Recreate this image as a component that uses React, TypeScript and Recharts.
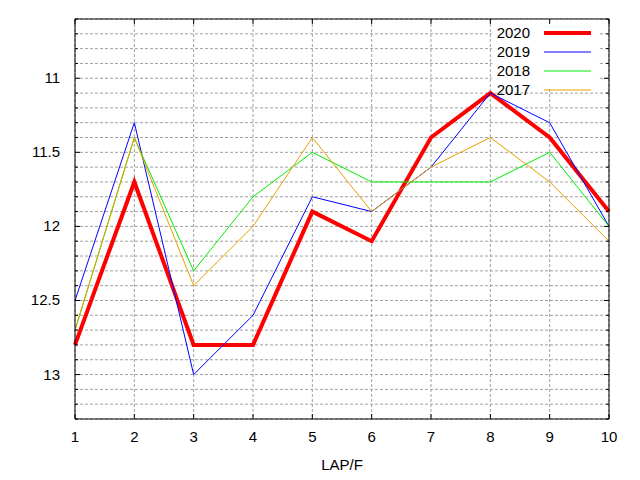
import { LineChart, Line, XAxis, YAxis, CartesianGrid, ReferenceArea } from 'recharts';

const LAPS = [1, 2, 3, 4, 5, 6, 7, 8, 9, 10];
const Y2020 = [12.8, 11.7, 12.8, 12.8, 11.9, 12.1, 11.4, 11.1, 11.4, 11.9];
const Y2019 = [12.5, 11.3, 13.0, 12.6, 11.8, 11.9, 11.6, 11.1, 11.3, 12.0];
const Y2018 = [12.7, 11.4, 12.3, 11.8, 11.5, 11.7, 11.7, 11.7, 11.5, 12.0];
const Y2017 = [12.7, 11.4, 12.4, 12.0, 11.4, 11.9, 11.6, 11.4, 11.7, 12.1];

const Y_TICKS = [
  10.6, 10.7, 10.8, 10.9, 11, 11.1, 11.2, 11.3, 11.4, 11.5, 11.6, 11.7, 11.8, 11.9, 12,
  12.1, 12.2, 12.3, 12.4, 12.5, 12.6, 12.7, 12.8, 12.9, 13, 13.1, 13.2, 13.3,
];
const Y_MAJOR = [11, 11.5, 12, 12.5, 13];

const SERIES = [
  { key: 'y2020', name: '2020', color: '#ff0000', width: 4, values: Y2020 },
  { key: 'y2019', name: '2019', color: '#0000ff', width: 1, values: Y2019 },
  { key: 'y2018', name: '2018', color: '#00ee00', width: 1, values: Y2018 },
  { key: 'y2017', name: '2017', color: '#e69f00', width: 1, values: Y2017 },
];

const data = LAPS.map((lap, i) => {
  const row: Record<string, number> = { lap };
  SERIES.forEach(s => { row[s.key] = s.values[i]; });
  return row;
});

const W = 640;
const H = 480;
const LEFT = 75;
const RIGHT = 609;
const TOP = 19;
const BOTTOM = 419;
const FONT = '"Liberation Sans", Arial, sans-serif';

const isMajor = (v: number) => Y_MAJOR.some(m => Math.abs(m - v) < 1e-6);

const LeftTick = (props: any) => {
  const { y, payload } = props;
  const major = isMajor(payload.value);
  return (
    <g>
      <line x1={LEFT} x2={LEFT + (major ? 5 : 3)} y1={y} y2={y} stroke="#000" />
      {major && (
        <text x={LEFT - 15} y={y} dy={5} textAnchor="end" fontSize={15} fontFamily={FONT} fill="#000">
          {payload.value}
        </text>
      )}
    </g>
  );
};

const RightTick = (props: any) => {
  const { y, payload } = props;
  const major = isMajor(payload.value);
  return <line x1={RIGHT} x2={RIGHT - (major ? 5 : 3)} y1={y} y2={y} stroke="#000" />;
};

const BottomTick = (props: any) => {
  const { x, payload } = props;
  return (
    <g>
      <line x1={x} x2={x} y1={BOTTOM} y2={BOTTOM - 5} stroke="#000" />
      <text x={x} y={BOTTOM + 23} textAnchor="middle" fontSize={15} fontFamily={FONT} fill="#000">
        {payload.value}
      </text>
    </g>
  );
};

const TopTick = (props: any) => {
  const { x } = props;
  return <line x1={x} x2={x} y1={TOP} y2={TOP + 5} stroke="#000" />;
};

export default function App() {
  return (
    <div style={{ position: 'absolute', left: 0, top: 0, width: W, height: H, background: '#fff' }}>
      <LineChart width={W} height={H} data={data} margin={{ top: 0, right: 0, bottom: 0, left: 0 }}>
        <CartesianGrid stroke="#a0a0a0" strokeDasharray="3 2" yAxisId="left" xAxisId="bottom" />
        <XAxis
          xAxisId="bottom"
          dataKey="lap"
          type="number"
          domain={[1, 10]}
          ticks={LAPS}
          height={61}
          stroke="#000"
          tickLine={false}
          tick={<BottomTick />}
          label={{ value: 'LAP/F', position: 'insideBottom', offset: 10, fontSize: 15, fontFamily: FONT, fill: '#000' }}
        />
        <XAxis
          xAxisId="top"
          orientation="top"
          dataKey="lap"
          type="number"
          domain={[1, 10]}
          ticks={LAPS}
          height={TOP}
          stroke="#000"
          tickLine={false}
          tick={<TopTick />}
        />
        <YAxis
          yAxisId="left"
          type="number"
          domain={[10.6, 13.3]}
          ticks={Y_TICKS}
          reversed
          allowDataOverflow
          width={LEFT}
          stroke="#000"
          tickLine={false}
          interval={0}
          tick={<LeftTick />}
        />
        <YAxis
          yAxisId="right"
          orientation="right"
          type="number"
          domain={[10.6, 13.3]}
          ticks={Y_TICKS}
          reversed
          allowDataOverflow
          width={W - RIGHT}
          stroke="#000"
          tickLine={false}
          interval={0}
          tick={<RightTick />}
        />
        <ReferenceArea
          xAxisId="bottom"
          yAxisId="left"
          x1={8.03}
          x2={9.81}
          y1={10.6}
          y2={11.07}
          fill="#fff"
          fillOpacity={1}
          stroke="none"
        />
        {SERIES.map(s => (
          <Line
            key={s.key}
            xAxisId="bottom"
            yAxisId="left"
            type="linear"
            dataKey={s.key}
            name={s.name}
            stroke={s.color}
            strokeWidth={s.width}
            dot={false}
            activeDot={false}
            isAnimationActive={false}
          />
        ))}
      </LineChart>
      <svg width={W} height={H} style={{ position: 'absolute', left: 0, top: 0, pointerEvents: 'none' }}>
        {SERIES.map((s, i) => (
          <g key={s.key}>
            <text x={530} y={38 + i * 19} textAnchor="end" fontSize={15} fontFamily={FONT} fill="#000">
              {s.name}
            </text>
            <line x1={544} x2={591} y1={33 + i * 19} y2={33 + i * 19} stroke={s.color} strokeWidth={s.width} />
          </g>
        ))}
      </svg>
    </div>
  );
}
